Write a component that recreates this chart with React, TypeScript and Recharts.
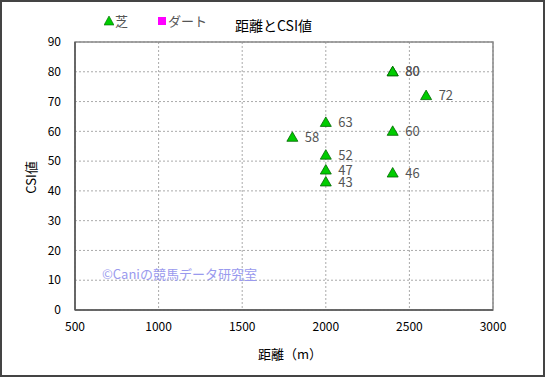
import React from 'react';
import { ScatterChart, Scatter, XAxis, YAxis, CartesianGrid, ReferenceArea, LabelList } from 'recharts';

// 距離 (m) and CSI for 芝 races
const distances = [1800, 2000, 2000, 2000, 2000, 2400, 2400, 2400, 2400, 2600];
const csiValues = [58, 63, 52, 47, 43, 80, 80, 60, 46, 72];

const xTicks = [500, 1000, 1500, 2000, 2500, 3000];
const yTicks = [0, 10, 20, 30, 40, 50, 60, 70, 80, 90];

const turfData = distances.map((d, i) => ({ x: d, y: csiValues[i] }));

const FONT = '"Noto Sans CJK JP", "Liberation Sans", sans-serif';

const Triangle = (props: any) => {
  const { cx, cy } = props;
  if (cx == null || cy == null) return null;
  return (
    <polygon
      points={`${cx},${cy - 5.5} ${cx - 5.5},${cy + 4} ${cx + 5.5},${cy + 4}`}
      fill="#00cc00"
      stroke="#006600"
      strokeWidth={0.8}
    />
  );
};

export default function App() {
  return (
    <div
      style={{
        position: 'absolute',
        left: 0,
        top: 0,
        width: 545,
        height: 377,
        boxSizing: 'border-box',
        border: '2px solid #444',
        background: '#fff',
        fontFamily: FONT,
      }}
    >
      <div style={{ position: 'absolute', left: -2, top: -2, width: 545, height: 377 }}>
        <ScatterChart width={545} height={377} margin={{ top: 42, right: 52, bottom: 37, left: 35 }}>
          <CartesianGrid stroke="#aaa" strokeDasharray="2 2" />
          <ReferenceArea x1={500} x2={3000} y1={0} y2={90} fill="none" stroke="#888" strokeWidth={1.5} />
          <XAxis
            type="number"
            dataKey="x"
            domain={[500, 3000]}
            ticks={xTicks}
            height={30}
            axisLine={{ stroke: '#555', strokeWidth: 1.5 }}
            tickLine={false}
            tick={{ fill: '#000', fontSize: 12, fontFamily: FONT }}
            tickMargin={6}
          />
          <YAxis
            type="number"
            dataKey="y"
            domain={[0, 90]}
            ticks={yTicks}
            width={40}
            axisLine={{ stroke: '#555', strokeWidth: 1.5 }}
            tickLine={false}
            tick={{ fill: '#000', fontSize: 12, fontFamily: FONT }}
            tickMargin={8}
          />
          <Scatter data={turfData} shape={Triangle} isAnimationActive={false}>
            <LabelList dataKey="y" position="right" offset={8} fill="#555" fontSize={13} fontFamily={FONT} />
          </Scatter>
        </ScatterChart>
      </div>

      {/* legend */}
      <div style={{ position: 'absolute', left: 102, top: 9, fontSize: 13, color: '#555', display: 'flex', alignItems: 'center' }}>
        <svg width={10} height={10} style={{ marginRight: 1 }}>
          <polygon points="5,0 0,9 10,9" fill="#00cc00" stroke="#006600" strokeWidth={0.6} />
        </svg>
        芝
      </div>
      <div style={{ position: 'absolute', left: 156, top: 9, fontSize: 13, color: '#555', display: 'flex', alignItems: 'center' }}>
        <span style={{ display: 'inline-block', width: 8, height: 8, background: '#ff00ff', marginRight: 2 }} />
        ダート
      </div>

      {/* title */}
      <div style={{ position: 'absolute', left: 233, top: 13, fontSize: 14, color: '#000' }}>距離とCSI値</div>

      {/* axis titles */}
      <div
        style={{
          position: 'absolute',
          left: 12,
          top: 166,
          fontSize: 13,
          color: '#000',
          transform: 'rotate(-90deg)',
          transformOrigin: 'center',
        }}
      >
        CSI値
      </div>
      <div style={{ position: 'absolute', left: 256, top: 342, fontSize: 13, color: '#000' }}>距離（m）</div>

      {/* watermark */}
      <div style={{ position: 'absolute', left: 100, top: 262, fontSize: 13, color: '#9a9aee' }}>©Caniの競馬データ研究室</div>
    </div>
  );
}
